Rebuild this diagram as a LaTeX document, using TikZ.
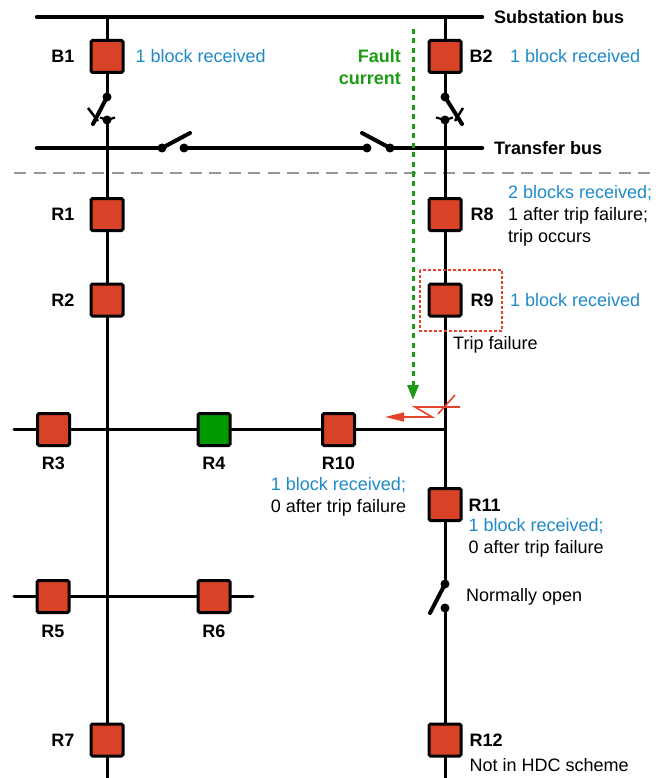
\documentclass[tikz,border=0pt]{standalone}
\usepackage{fontspec}
\setmainfont{Liberation Sans}
\usetikzlibrary{positioning,arrows.meta}
\definecolor{relayred}{RGB}{216,66,38}
\definecolor{relaygreen}{RGB}{0,153,0}
\definecolor{infoblue}{RGB}{30,138,200}
\definecolor{faultgreen}{RGB}{30,155,20}
\definecolor{faultred}{RGB}{228,68,44}
\definecolor{sepgray}{RGB}{150,150,150}

\begin{document}
\begin{tikzpicture}[x=1pt,y=-1pt,
    bus/.style={line width=4.5pt,line cap=round},
    wire/.style={line width=3pt,line cap=round},
    relay/.style={draw,line width=3pt,fill=relayred,minimum size=32pt,inner sep=0pt,rounded corners=1.5pt},
    tag/.style={inner sep=0pt,font=\fontsize{18}{22}\selectfont\bfseries},
    txt/.style={inner sep=0pt,font=\fontsize{18}{22}\selectfont},
    info/.style={txt,text=infoblue},
    contact/.style={circle,fill,inner sep=0pt,minimum size=9pt},
    blade/.style={line width=4pt,line cap=round}]
  \useasboundingbox (0,0) rectangle (668,778);

  % buses
  \coordinate (sbw) at (37,17);
  \coordinate (sbe) at (482,17);
  \draw[bus] (sbw) -- (sbe);
  \node[tag,right=12pt of sbe] (sbtxt) {Substation bus};

  \coordinate (tbw) at (37,148);
  \coordinate (tbe) at (482,148);
  \node[contact] (tl1) at (162,148) {};
  \node[contact] (tl2) at (184,148) {};
  \node[contact] (tr1) at (367,148) {};
  \node[contact] (tr2) at (390,148) {};
  \draw[bus] (tbw) -- (tl1.center);
  \draw[bus] (tl2.center) -- (tr1.center);
  \draw[bus] (tr2.center) -- (tbe);
  \draw[blade] (tl1.center) -- (190,133);
  \draw[blade] (tr2.center) -- (362,133);
  \node[tag,right=12pt of tbe] (tbtxt) {Transfer bus};

  \draw[sepgray,line width=2pt,dash pattern=on 12pt off 7.5pt] (14,173) -- (650,173);

  % relays
  \node[relay] (b1) at (107,56.5) {};
  \node[relay] (b2) at (445,56.5) {};
  \node[relay] (r1) at (107,214.5) {};
  \node[relay] (r2) at (107,300) {};
  \node[relay] (r8) at (445,214.5) {};
  \node[relay] (r9) at (445,300) {};
  \node[relay] (r3) at (53.5,429.5) {};
  \node[relay,fill=relaygreen] (r4) at (214,429.5) {};
  \node[relay] (r10) at (338.5,429.5) {};
  \node[relay] (r11) at (445,504.5) {};
  \node[relay] (r5) at (53,596.5) {};
  \node[relay] (r6) at (214,596.5) {};
  \node[relay] (r7) at (107,740) {};
  \node[relay] (r12) at (445,740) {};

  % disconnectors under the breakers
  \node[contact] (d1) at (107,97) {};
  \node[contact] (d2) at (107,120) {};
  \node[contact] (d3) at (445,97) {};
  \node[contact] (d4) at (445,120) {};
  \draw[blade] (d1.center) -- (93,124);
  \draw[line width=2.5pt] (88,108) -- (98,121);
  \draw[line width=2.2pt] (100,117.5) -- (d2.center) -- (115,117.5);
  \draw[blade] (d3.center) -- (462,124);
  \draw[line width=2.5pt] (463,108) -- (455,121);
  \draw[line width=2.2pt] (436,117.5) -- (d4.center) -- (453,117.5);

  % normally open switch
  \node[contact] (no1) at (445,584) {};
  \node[contact] (no2) at (445,608) {};
  \draw[blade] (no1.center) -- (430,613);

  % feeders
  \coordinate (sb1) at (107,17);
  \coordinate (sb2) at (445,17);
  \coordinate (jl) at (107,429.5);
  \coordinate (jr) at (445,429.5);
  \coordinate (jl5) at (107,596.5);
  \coordinate (hw) at (14,429.5);
  \coordinate (hw5) at (14,596.5);
  \coordinate (he5) at (253,596.5);
  \coordinate (lend) at (107,790);
  \coordinate (rend) at (445,790);
  \draw[wire] (sb1) -- (b1) -- (d1);
  \draw[wire] (d2) -- (r1) -- (r2) -- (jl) -- (r7) -- (lend);
  \draw[wire] (sb2) -- (b2) -- (d3);
  \draw[wire] (d4) -- (r8) -- (r9) -- (jr) -- (r11) -- (no1);
  \draw[wire] (no2) -- (r12) -- (rend);
  \draw[wire] (hw) -- (r3) -- (jl) -- (r4) -- (r10) -- (jr);
  \draw[wire] (hw5) -- (r5) -- (jl5) -- (r6) -- (he5);

  % labels
  \node[tag,left=15pt of b1] (b1t) {B1};
  \node[info,right=11pt of b1] (b1i) {1 block received};
  \node[tag,right=7pt of b2] (b2t) {B2};
  \node[info,right=17pt of b2t] (b2i) {1 block received};
  \node[tag,left=15pt of r1] (r1t) {R1};
  \node[tag,left=15pt of r2] (r2t) {R2};
  \node[tag,left=15pt of r7] (r7t) {R7};
  \node[tag,right=8pt of r8] (r8t) {R8};
  \node[txt,align=left,right=14pt of r8t,yshift=-1pt] (r8i)
    {{\color{infoblue}2 blocks received;}\\1 after trip failure;\\trip occurs};
  \node[tag,right=8pt of r9] (r9t) {R9};
  \node[info,right=16pt of r9t] (r9i) {1 block received};
  \node[txt,anchor=west] (tfail) at (453,345) {Trip failure};
  \node[tag,below=10pt of r3] (r3t) {R3};
  \node[tag,below=10pt of r4] (r4t) {R4};
  \node[tag,below=10pt of r10] (r10t) {R10};
  \node[txt,align=center,below=7pt of r10t] (r10i)
    {{\color{infoblue}1 block received;}\\0 after trip failure};
  \node[tag,right=6pt of r11,yshift=-1pt] (r11t) {R11};
  \node[txt,align=left,anchor=north west] (r11i) at ([yshift=-6pt]r11t.south west)
    {{\color{infoblue}1 block received;}\\0 after trip failure};
  \node[tag,below=11pt of r5] (r5t) {R5};
  \node[tag,below=11pt of r6] (r6t) {R6};
  \node[txt,anchor=west] (notxt) at (466,597) {Normally open};
  \node[tag,right=7pt of r12] (r12t) {R12};
  \node[txt,anchor=north west] (r12i) at ([yshift=-12pt]r12t.south west) {Not in HDC scheme};

  % fault
  \draw[faultred,line width=1.5pt,dash pattern=on 3pt off 2pt] (420,270) rectangle (502,331);
  \coordinate (fctop) at (413,29);
  \coordinate (fctip) at (413,400);
  \draw[faultgreen,line width=3pt,dash pattern=on 5pt off 4.5pt,-{Triangle[length=15pt,width=11pt]}] (fctop) -- (fctip);
  \node[tag,text=faultgreen,align=right,anchor=north east] (fctxt) at (401,49.5) {Fault\\current};
  \draw[faultred,line width=1.6pt,-{Triangle[length=19pt,width=9pt]}] (460,407) -- (415,407) -- (432,417) -- (385,417);
  \draw[faultred,line width=1.6pt] (438,414) -- (455,395);
\end{tikzpicture}
\end{document}
